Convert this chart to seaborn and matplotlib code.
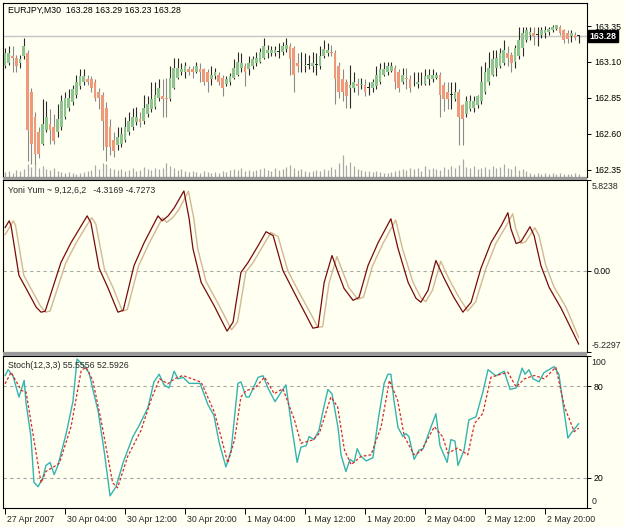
import matplotlib
matplotlib.use("Agg")
import matplotlib.pyplot as plt
import matplotlib.transforms as mtransforms
from matplotlib.patches import Rectangle
import seaborn as sns

sns.set_theme(style="white")
plt.rcParams["font.family"] = ["Liberation Sans", "DejaVu Sans"]

# ── EURJPY M30 candles (bar index 0..153) ──────────────────────────────────────
opens = [163.07, 163.09, 163.14, 163.13, 163.09, 163.14, 163.16, 162.89, 162.72, 162.61,
         162.53, 162.63, 162.67, 162.65, 162.61, 162.65, 162.72, 162.78, 162.82, 162.87,
         162.93, 162.96, 162.98, 162.98, 162.96, 162.89, 162.87, 162.78, 162.65, 162.56,
         162.52, 162.53, 162.56, 162.61, 162.65, 162.68, 162.70, 162.69, 162.74, 162.77,
         162.79, 162.85, 162.86, 162.85, 162.84, 162.92, 162.99, 163.03, 163.03, 163.05,
         163.05, 163.03, 163.05, 163.05, 163.03, 162.98, 163.00, 163.01, 162.99, 162.95,
         162.96, 162.99, 163.01, 163.06, 163.07, 163.05, 163.07, 163.09, 163.10, 163.13,
         163.16, 163.16, 163.16, 163.17, 163.17, 163.19, 163.21, 163.20, 163.09, 163.07,
         163.07, 163.08, 163.07, 163.08, 163.07, 163.14, 163.16, 163.17, 163.16, 163.07,
         162.98, 162.96, 162.92, 162.92, 162.95, 162.94, 162.94, 162.92, 162.92, 162.93,
         162.96, 163.01, 163.03, 163.04, 163.06, 163.03, 162.96, 162.99, 162.98, 162.96,
         162.95, 162.96, 162.95, 162.98, 162.98, 162.99, 163.01, 162.94, 162.89, 162.87,
         162.84, 162.89, 162.80, 162.74, 162.77, 162.78, 162.80, 162.83, 162.89, 162.96,
         163.01, 163.06, 163.07, 163.09, 163.16, 163.15, 163.10, 163.14, 163.20, 163.25,
         163.29, 163.30, 163.29, 163.29, 163.30, 163.31, 163.32, 163.33, 163.34, 163.32,
         163.30, 163.28, 163.29, 163.28]
closes = [163.16, 163.16, 163.13, 163.07, 163.12, 163.21, 162.63, 162.53, 162.46, 162.46,
          162.67, 162.72, 162.63, 162.55, 162.70, 162.83, 162.85, 162.85, 162.91, 162.96,
          163.00, 163.00, 162.96, 162.92, 162.85, 162.85, 162.69, 162.51, 162.51, 162.48,
          162.58, 162.60, 162.65, 162.69, 162.72, 162.72, 162.68, 162.78, 162.81, 162.84,
          162.87, 162.92, 162.84, 162.84, 162.99, 163.06, 163.06, 163.05, 163.07, 163.03,
          163.03, 163.07, 163.03, 162.96, 162.96, 163.01, 163.03, 162.96, 162.92, 162.98,
          163.00, 163.06, 163.10, 163.09, 163.03, 163.09, 163.12, 163.13, 163.17, 163.21,
          163.18, 163.18, 163.18, 163.17, 163.21, 163.22, 163.12, 163.01, 163.07, 163.07,
          163.08, 163.08, 163.09, 163.08, 163.14, 163.19, 163.18, 163.16, 162.98, 162.89,
          162.89, 162.86, 162.94, 162.96, 162.93, 162.95, 162.89, 162.92, 162.96, 163.01,
          163.05, 163.05, 163.07, 163.07, 162.96, 162.92, 163.01, 162.98, 162.92, 162.96,
          162.96, 162.96, 163.00, 163.01, 163.01, 163.01, 162.87, 162.84, 162.84, 162.87,
          162.89, 162.72, 162.70, 162.83, 162.83, 162.83, 162.86, 162.96, 163.03, 163.06,
          163.12, 163.13, 163.16, 163.18, 163.13, 163.09, 163.20, 163.25, 163.30, 163.32,
          163.31, 163.28, 163.29, 163.32, 163.32, 163.33, 163.34, 163.36, 163.30, 163.25,
          163.26, 163.30, 163.27, 163.28]
highs = [163.20, 163.21, 163.21, 163.15, 163.15, 163.27, 163.18, 162.92, 162.75, 162.65,
         162.84, 162.83, 162.77, 162.74, 162.81, 162.87, 162.89, 162.91, 162.94, 163.01,
         163.05, 163.05, 163.01, 163.00, 162.98, 162.92, 162.89, 162.82, 162.70, 162.61,
         162.65, 162.65, 162.72, 162.75, 162.78, 162.79, 162.75, 162.87, 162.86, 162.96,
         162.96, 162.98, 162.98, 162.99, 163.07, 163.13, 163.13, 163.09, 163.10, 163.07,
         163.07, 163.10, 163.09, 163.06, 163.05, 163.07, 163.06, 163.03, 163.01, 163.00,
         163.02, 163.12, 163.17, 163.16, 163.09, 163.14, 163.14, 163.17, 163.20, 163.27,
         163.22, 163.21, 163.21, 163.23, 163.24, 163.27, 163.23, 163.21, 163.16, 163.17,
         163.16, 163.15, 163.17, 163.16, 163.21, 163.25, 163.23, 163.22, 163.18, 163.10,
         163.05, 162.98, 163.08, 163.03, 162.99, 162.99, 162.98, 162.96, 162.98, 163.07,
         163.09, 163.10, 163.10, 163.10, 163.08, 163.05, 163.06, 163.06, 163.01, 163.03,
         163.03, 163.03, 163.05, 163.05, 163.05, 163.03, 163.03, 162.96, 162.96, 162.96,
         162.96, 162.91, 162.81, 162.86, 162.87, 162.86, 162.87, 163.07, 163.10, 163.17,
         163.18, 163.18, 163.20, 163.25, 163.21, 163.17, 163.22, 163.34, 163.34, 163.34,
         163.34, 163.34, 163.34, 163.34, 163.35, 163.34, 163.36, 163.36, 163.36, 163.33,
         163.32, 163.32, 163.31, 163.29]
lows = [163.06, 163.08, 163.03, 163.03, 163.06, 163.12, 162.41, 162.39, 162.39, 162.43,
        162.52, 162.61, 162.53, 162.53, 162.58, 162.63, 162.70, 162.76, 162.80, 162.85,
        162.91, 162.94, 162.94, 162.89, 162.83, 162.77, 162.49, 162.41, 162.45, 162.44,
        162.49, 162.51, 162.54, 162.59, 162.63, 162.66, 162.65, 162.67, 162.72, 162.75,
        162.77, 162.83, 162.72, 162.72, 162.83, 162.91, 162.98, 163.01, 162.99, 163.01,
        162.99, 163.02, 162.96, 162.94, 162.89, 162.94, 162.98, 162.94, 162.86, 162.93,
        162.94, 162.98, 163.00, 163.03, 162.93, 163.01, 163.05, 163.07, 163.09, 163.12,
        163.13, 163.14, 163.14, 163.13, 163.15, 163.17, 163.01, 162.89, 163.03, 163.03,
        163.03, 163.05, 163.03, 163.01, 163.05, 163.13, 163.14, 163.14, 162.81, 162.85,
        162.83, 162.78, 162.78, 162.89, 162.87, 162.91, 162.86, 162.87, 162.89, 162.91,
        162.95, 163.00, 163.01, 163.03, 162.91, 162.89, 162.95, 162.91, 162.89, 162.93,
        162.92, 162.94, 162.94, 162.94, 162.96, 162.98, 162.72, 162.76, 162.77, 162.77,
        162.83, 162.52, 162.52, 162.72, 162.76, 162.75, 162.78, 162.81, 162.88, 162.94,
        163.00, 163.00, 163.06, 163.08, 163.07, 163.03, 163.06, 163.12, 163.14, 163.24,
        163.25, 163.22, 163.21, 163.27, 163.27, 163.29, 163.31, 163.32, 163.29, 163.23,
        163.23, 163.24, 163.25, 163.23]
volumes = [25, 30, 20, 35, 30, 40, 65, 50, 70, 45, 55, 40, 35, 45, 30, 25, 20, 25, 20, 15,
           20, 25, 30, 35, 60, 40, 70, 65, 45, 40, 35, 40, 30, 35, 45, 30, 35, 50, 40, 35,
           45, 40, 45, 70, 55, 45, 35, 40, 30, 25, 30, 25, 20, 30, 25, 20, 25, 20, 30, 25,
           35, 40, 35, 45, 30, 35, 30, 35, 40, 45, 35, 30, 45, 35, 40, 50, 60, 45, 35, 40,
           30, 25, 30, 35, 30, 40, 35, 50, 40, 70, 115, 60, 80, 55, 40, 35, 30, 30, 25, 30,
           25, 20, 20, 25, 30, 35, 40, 35, 45, 40, 45, 30, 55, 40, 45, 40, 35, 50, 40, 55,
           45, 60, 95, 50, 45, 55, 40, 45, 50, 40, 55, 45, 50, 65, 45, 40, 55, 35, 40, 30,
           20, 15, 20, 15, 20, 15, 20, 15, 20, 15, 15, 15, 20, 15]
last_price = 163.28
price_ticks = [162.35, 162.60, 162.85, 163.10, 163.35]

# ── Yoni Yum oscillator (vertices: bar, value) ────────────────────────────────
yy_main_bars = [0, 1.1, 1.6, 3.7, 5.6, 8.3, 9.6, 10.7, 14.9, 17.6, 20.3, 21.9, 22.9, 25.1,
                27.5, 30.1, 31.5, 34.4, 37.1, 40.8, 41.9, 43.5, 45.1, 47.7, 49.1, 50.1,
                52.3, 55.7, 59.2, 60.8, 62.9, 64.8, 67.5, 69.6, 71.5, 74.1, 77.1, 80.3,
                82.1, 83.5, 85.1, 87.2, 88.8, 90.4, 92.8, 94.4, 96.8, 99.5, 102.9, 104.8,
                107.5, 109.6, 110.9, 112.8, 114.9, 117.1, 119.7, 122.1, 124.3, 126.9,
                129.6, 132.3, 134.1, 134.9, 136.3, 137.6, 140.0, 141.1, 142.9, 145.1,
                148.3, 153]
yy_main = [2.76, 3.2, 2.88, -0.31, -1.14, -2.35, -2.67, -2.61, 0.52, 1.8, 2.88, 3.52, 3.07,
           0.14, -1.14, -2.67, -2.55, 0.33, 1.8, 3.52, 3.2, 3.52, 4.03, 5.12, 3.33, 1.42,
           -0.76, -2.23, -3.89, -3.31, -0.12, 0.52, 1.61, 2.5, 2.25, 0.01, -1.4, -2.87,
           -3.7, -3.63, -0.76, 0.97, -0.12, -1.14, -1.91, -1.72, 0.33, 1.8, 3.33, 1.42,
           -0.76, -1.78, -2.03, -1.27, 0.65, -0.5, -1.72, -2.67, -2.03, 0.14, 1.8, 2.88,
           3.72, 2.69, 1.74, 1.86, 2.82, 2.25, 0.33, -1.08, -2.42, -4.7273]
yy_sig_bars = [0, 2.2, 2.8, 5, 7, 9.5, 10.8, 12, 16.2, 19, 21.5, 23.1, 24.2, 26.5, 28.8,
               31.3, 32.6, 35.6, 38.3, 42, 43.1, 44.7, 46.3, 48.9, 50.3, 51.4, 53.6, 57,
               60.4, 62, 64.2, 66.1, 68.8, 70.9, 72.8, 75.4, 78.4, 81.6, 83.4, 84.7, 86.4,
               88.5, 90.1, 91.7, 94.1, 95.6, 98, 100.8, 104.2, 106, 108.8, 110.9, 112.2,
               114, 116.2, 118.3, 121, 123.4, 125.5, 128.2, 130.9, 133.6, 135.4, 136.2,
               137.6, 138.8, 141.3, 142.4, 144.2, 146.4, 149.6, 153]
yy_sig = [2.3, 3.2, 2.9, -0.3, -1.2, -2.3, -2.67, -2.6, 0.5, 1.8, 2.8, 3.4, 3.0, 0.1, -1.1,
          -2.6, -2.5, 0.3, 1.7, 3.4, 3.1, 3.4, 3.9, 5.1, 3.4, 1.4, -0.7, -2.2, -3.8, -3.3,
          -0.1, 0.5, 1.6, 2.45, 2.2, 0.0, -1.4, -2.8, -3.65, -3.6, -0.8, 0.9, -0.1, -1.1,
          -1.85, -1.7, 0.3, 1.75, 3.25, 1.4, -0.75, -1.75, -2.0, -1.25, 0.6, -0.5, -1.7,
          -2.6, -2.0, 0.1, 1.75, 2.85, 3.65, 2.7, 1.75, 1.85, 2.75, 2.25, 0.35, -1.05,
          -2.35, -4.3169]
yy_top, yy_bottom = 5.8238, -5.2297

# ── Stochastic (12,3,3) (vertices: bar, value) ────────────────────────────────
st_main_bars = [0, 0.8, 2.1, 3.7, 4.5, 5.1, 5.6, 6.9, 7.7, 8.8, 10.1, 10.9, 12, 13.1, 14.1,
                16.3, 18.1, 19.2, 20.8, 22.4, 23.7, 24.8, 26.4, 28, 29.6, 31.5, 34.1, 35.7,
                38.1, 39.7, 41.1, 42.4, 43.7, 45.1, 46.1, 47.5, 48.3, 49.1, 52, 54.1, 55.7,
                57.1, 58.9, 60.3, 62.1, 62.9, 64.3, 65.1, 67.5, 68.8, 70.1, 72, 74.9, 76.3,
                77.9, 78.9, 80.3, 81.1, 82.4, 83.7, 84.8, 86.1, 87.2, 88.8, 89.6, 90.9, 92,
                93.1, 93.9, 94.9, 96.3, 98.1, 99.5, 101.1, 102.1, 102.9, 103.7, 104.8,
                106.1, 106.9, 107.7, 109.1, 110.4, 111.5, 113.1, 114.9, 116, 117.9, 118.9,
                120, 120.8, 122.4, 123.7, 125.6, 127.5, 128.8, 130.9, 133.1, 134.7, 136.3,
                137.9, 138.7, 139.7, 140.8, 142.4, 143.7, 146.4, 147.7, 150.1, 150.9, 153]
st_main = [87, 91, 87, 73, 79, 84, 69, 47, 17, 14, 20, 28, 30, 22, 28, 49, 70, 98, 94, 89,
           75, 64, 38, 8, 14, 30, 47, 54, 66, 83, 88, 81, 79, 90, 85, 86, 84, 82, 82, 68,
           61, 43, 27, 38, 82, 83, 73, 73, 86, 87, 79, 70, 81, 56, 30, 40, 41, 47, 45, 51,
           64, 78, 75, 53, 35, 24, 32, 30, 39, 34, 31, 33, 58, 82, 88, 88, 71, 53, 47, 49,
           47, 32, 38, 39, 50, 62, 41, 30, 45, 44, 28, 38, 58, 60, 77, 91, 87, 90, 78, 79,
           92, 88, 91, 85, 83, 89, 93, 88, 46, 49, 55.5556]
st_sig_bars = [0, 1.6, 4.3, 5.6, 9.6, 10.9, 13.2, 14.5, 17.6, 20.3, 21.6, 23.4, 25.6, 28.7,
               30.0, 32.7, 36.3, 38.9, 41.2, 43.4, 45.2, 47.4, 52.3, 55.8, 57.6, 59.4, 61.2,
               62.9, 64.3, 66.5, 69.2, 71.8, 74.1, 77.2, 78.9, 82.1, 83.8, 86.9, 88.7, 90.5,
               92.3, 94.9, 97.6, 100.3, 102.5, 104.7, 106.5, 109.1, 110.9, 114.5, 116.7,
               118.1, 120.7, 123.4, 125.2, 127.4, 129.6, 134.1, 136.3, 138.5, 141.2, 143.8,
               146.9, 149.2, 151.8, 153]
st_sig = [81.7, 89.3, 77.4, 76.3, 16.5, 24.1, 27.4, 29.6, 53.5, 90.4, 92.6, 83.9, 57.8, 16.5,
          13.3, 33.9, 51.3, 70.9, 85, 81.7, 85, 87.2, 82.8, 63.2, 46.9, 29.6, 44.8, 73, 77.4,
          78.5, 86.1, 75.2, 78.5, 57.8, 42.6, 44.8, 49.1, 73, 66.5, 38.3, 28.5, 33.9, 35,
          53.5, 83.9, 70.9, 46.9, 35, 37.2, 53.5, 46.9, 36.1, 39.4, 35, 55.6, 62.2, 86.1,
          89.3, 79.6, 85, 87.2, 85, 92.6, 66.5, 50.2, 52.5926]
st_levels = [80, 20]

date_ticks = [0, 16, 32, 48, 64, 80, 96, 112, 128, 144]
date_labels = ["27 Apr 2007", "30 Apr 04:00", "30 Apr 12:00", "30 Apr 20:00", "1 May 04:00",
               "1 May 12:00", "1 May 20:00", "2 May 04:00", "2 May 12:00", "2 May 20:00"]

# ── figure layout (MT4 style: three stacked windows) ───────────────────────────
BG = "#FFFFF2"
W_PX, H_PX = 625, 527
fig = plt.figure(figsize=(6.25, 5.27), dpi=100, facecolor=BG)


def px_axes(top, bottom, left=3, right=587):
    return fig.add_axes([left / W_PX, 1 - bottom / H_PX, (right - left) / W_PX,
                         (bottom - top) / H_PX])


ax1 = px_axes(3, 177)
ax2 = px_axes(180, 352)
ax3 = px_axes(356, 508)

# grey splitter bars between windows
for top, bottom in [(177, 180), (352, 356)]:
    fig.patches.append(Rectangle((3 / W_PX, 1 - bottom / H_PX), 584 / W_PX,
                                 (bottom - top) / H_PX, transform=fig.transFigure,
                                 facecolor="#9A9A9A", edgecolor="none"))

FS = 6.3
xlim = (-0.55, 155.2)
for ax in (ax1, ax2, ax3):
    ax.set_facecolor(BG)
    ax.set_xlim(*xlim)
    for s in ax.spines.values():
        s.set_color("black")
        s.set_linewidth(0.8)
    ax.yaxis.tick_right()
    ax.tick_params(axis="y", direction="out", length=3, width=0.7, pad=2,
                   labelsize=FS, colors="black", right=True, left=False)
    ax.set_xticks([])

# ── main window: candles + volumes ─────────────────────────────────────────────
bars = list(range(len(opens)))
ax1.axhline(last_price, color="#C4C4C4", lw=1, zorder=0)
ax1.vlines(bars, 0, [v / 900 for v in volumes], transform=ax1.get_xaxis_transform(),
           colors="#A8A8A8", lw=0.9, zorder=1)

wick_cols, body_cols, bottoms, heights = [], [], [], []
for o, c in zip(opens, closes):
    if c > o:
        wick_cols.append("#2A2A2A")
        body_cols.append("#8FC48F")
    elif c < o:
        wick_cols.append("#8A8A8A")
        body_cols.append("#EE9A7A")
    else:
        wick_cols.append("#2A2A2A")
        body_cols.append("#2A2A2A")
    bottoms.append(min(o, c))
    heights.append(max(abs(c - o), 0.004))
ax1.vlines(bars, lows, highs, colors=wick_cols, lw=0.8, zorder=2)
ax1.bar(bars, heights, bottom=bottoms, width=0.74, color=body_cols, linewidth=0, zorder=3)

ax1.set_ylim(162.30, 163.51)
ax1.set_yticks(price_ticks)
ax1.set_yticklabels([f"{t:.2f}" for t in price_ticks])
ax1.text(1.004, last_price, f"{last_price:.2f}", color="white", fontsize=FS,
         fontweight="bold", va="center", ha="left",
         transform=mtransforms.blended_transform_factory(ax1.transAxes, ax1.transData),
         bbox=dict(boxstyle="square,pad=0.15", facecolor="black", edgecolor="black"))
ax1.text(0.009, 0.96, "EURJPY,M30  163.28 163.29 163.23 163.28", transform=ax1.transAxes,
         fontsize=FS, va="center", ha="left", color="black")

# ── Yoni Yum window ────────────────────────────────────────────────────────────
ax2.axhline(0, color="#A8A8A8", lw=0.8, ls=(0, (3, 3)), zorder=0)
sns.lineplot(x=yy_sig_bars, y=yy_sig, ax=ax2, color="#D2B890", lw=1.0,
             estimator=None, sort=False)
sns.lineplot(x=yy_main_bars, y=yy_main, ax=ax2, color="#7A0A0A", lw=0.9,
             estimator=None, sort=False)
ax2.set_ylim(yy_bottom, yy_top)
ax2.set_yticks([yy_top, 0, yy_bottom])
ax2.set_yticklabels(["", "0.00", ""])
ax2.text(1.008, 0.99, f"{yy_top:.4f}", transform=ax2.transAxes, fontsize=FS,
         va="top", ha="left")
ax2.text(1.008, 0.01, f"{yy_bottom:.4f}", transform=ax2.transAxes, fontsize=FS,
         va="bottom", ha="left")
ax2.text(0.009, 0.942, f"Yoni Yum ~ 9,12,6,2   {yy_sig[-1]:.4f} {yy_main[-1]:.4f}",
         transform=ax2.transAxes, fontsize=FS, va="center", ha="left")
ax2.set_xlabel("")
ax2.set_ylabel("")

# ── Stochastic window ──────────────────────────────────────────────────────────
for lv in st_levels:
    ax3.axhline(lv, color="#A8A8A8", lw=0.8, ls=(0, (3, 3)), zorder=0)
sns.lineplot(x=st_main_bars, y=st_main, ax=ax3, color="#34B4B0", lw=1.0,
             estimator=None, sort=False)
sns.lineplot(x=st_sig_bars, y=st_sig, ax=ax3, color="#D42A2A", lw=0.9,
             estimator=None, sort=False, linestyle=(0, (2.2, 1.6)))
ax3.set_ylim(0, 100)
ax3.set_yticks([100, 80, 20, 0])
ax3.set_yticklabels(["", "80", "20", ""])
ax3.text(1.008, 0.985, "100", transform=ax3.transAxes, fontsize=FS, va="top", ha="left")
ax3.text(1.008, 0.015, "0", transform=ax3.transAxes, fontsize=FS, va="bottom", ha="left")
ax3.text(0.009, 0.94, f"Stoch(12,3,3) {st_main[-1]:.4f} {st_sig[-1]:.4f}",
         transform=ax3.transAxes, fontsize=FS, va="center", ha="left")
ax3.set_xlabel("")
ax3.set_ylabel("")

ax3.set_xticks(date_ticks)
ax3.set_xticklabels([""] * len(date_ticks))
ax3.tick_params(axis="x", direction="out", length=4, width=0.7, bottom=True, colors="black")
xt = mtransforms.blended_transform_factory(ax3.transData, ax3.transAxes)
for b, lab in zip(date_ticks, date_labels):
    ax3.text(b + 0.5, -0.045, lab, transform=xt, fontsize=FS, va="top", ha="left")

fig.savefig("out.png", dpi=100, facecolor=BG)
